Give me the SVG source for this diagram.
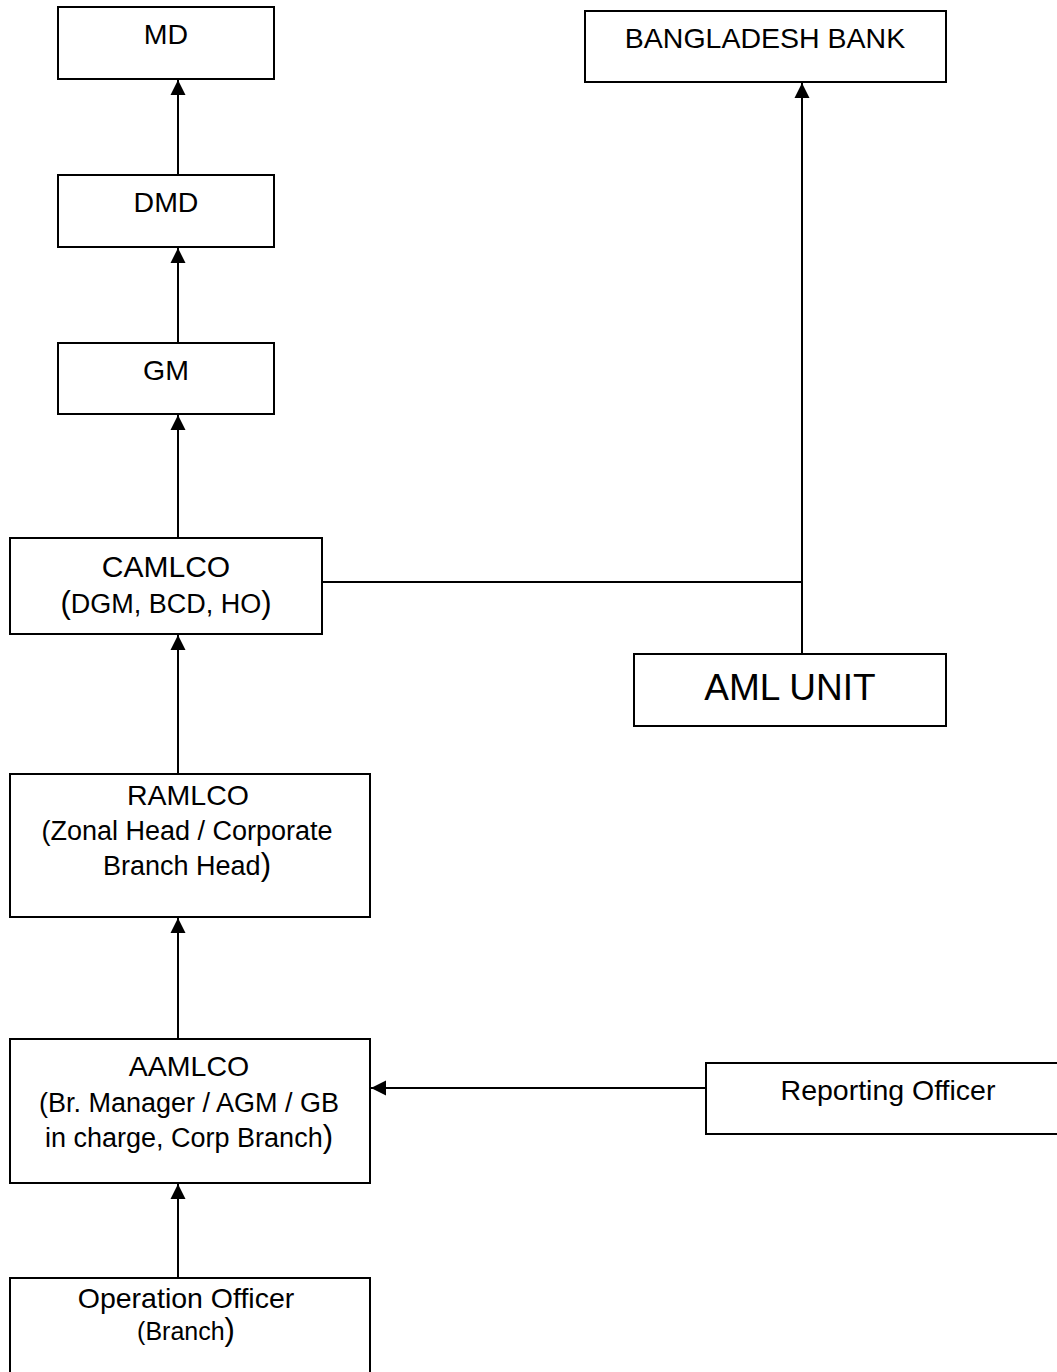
<svg xmlns="http://www.w3.org/2000/svg" width="1057" height="1372" viewBox="0 0 1057 1372">
<style>
.box{fill:#fff;stroke:#000;stroke-width:2}
.t{font-family:"Liberation Sans",Arial,sans-serif;font-size:28.5px;fill:#000;text-anchor:middle}
.s{font-size:27px}
.p{font-size:31px}
.big{font-size:37px}
.con{fill:none;stroke:#000;stroke-width:2}
</style>
<defs>
<marker id="ah" markerUnits="userSpaceOnUse" markerWidth="16" markerHeight="16" viewBox="0 0 16 16" refX="15" refY="8" orient="auto">
<path d="M0,0.5 L15,8 L0,15.5 Z" fill="#000"/>
</marker>
</defs>
<g id="connectors">
<line class="con" x1="178" y1="174" x2="178" y2="80" marker-end="url(#ah)"/>
<line class="con" x1="178" y1="342" x2="178" y2="248" marker-end="url(#ah)"/>
<line class="con" x1="178" y1="538" x2="178" y2="415" marker-end="url(#ah)"/>
<line class="con" x1="178" y1="774" x2="178" y2="635" marker-end="url(#ah)"/>
<line class="con" x1="178" y1="1039" x2="178" y2="918" marker-end="url(#ah)"/>
<line class="con" x1="178" y1="1278" x2="178" y2="1184" marker-end="url(#ah)"/>
<line class="con" x1="802" y1="654" x2="802" y2="83" marker-end="url(#ah)"/>
<line class="con" x1="322" y1="582" x2="802" y2="582"/>
<line class="con" x1="706" y1="1088" x2="371" y2="1088" marker-end="url(#ah)"/>
</g>
<g id="md">
<rect class="box" x="58" y="7" width="216" height="72"/>
<text class="t" x="166" y="44">MD</text>
</g>
<g id="dmd">
<rect class="box" x="58" y="175" width="216" height="72"/>
<text class="t" x="166" y="212">DMD</text>
</g>
<g id="gm">
<rect class="box" x="58" y="343" width="216" height="71"/>
<text class="t" x="166" y="380">GM</text>
</g>
<g id="camlco">
<rect class="box" x="10" y="538" width="312" height="96"/>
<text class="t" x="166" y="577" style="font-size:30px">CAMLCO</text>
<text class="t s" x="166" y="613"><tspan class="p">(</tspan>DGM, BCD, HO<tspan class="p">)</tspan></text>
</g>
<g id="bangladesh-bank">
<rect class="box" x="585" y="11" width="361" height="71"/>
<text class="t" x="765" y="48">BANGLADESH BANK</text>
</g>
<g id="aml-unit">
<rect class="box" x="634" y="654" width="312" height="72"/>
<text class="t big" x="790" y="700">AML UNIT</text>
</g>
<g id="ramlco">
<rect class="box" x="10" y="774" width="360" height="143"/>
<text class="t" x="188" y="805">RAMLCO</text>
<text class="t s" x="187" y="840">(Zonal Head / Corporate</text>
<text class="t s" x="187" y="875">Branch Head<tspan class="p">)</tspan></text>
</g>
<g id="aamlco">
<rect class="box" x="10" y="1039" width="360" height="144"/>
<text class="t" x="189" y="1076">AAMLCO</text>
<text class="t s" x="189" y="1112">(Br. Manager / AGM / GB</text>
<text class="t s" x="189" y="1147">in charge, Corp Branch<tspan class="p">)</tspan></text>
</g>
<g id="reporting-officer">
<rect class="box" x="706" y="1063" width="370" height="71"/>
<text class="t" x="888" y="1100">Reporting Officer</text>
</g>
<g id="operation-officer">
<rect class="box" x="10" y="1278" width="360" height="110"/>
<text class="t" x="186" y="1308">Operation Officer</text>
<text class="t" x="186" y="1340" style="font-size:25px">(Branch<tspan class="p">)</tspan></text>
</g>
</svg>
